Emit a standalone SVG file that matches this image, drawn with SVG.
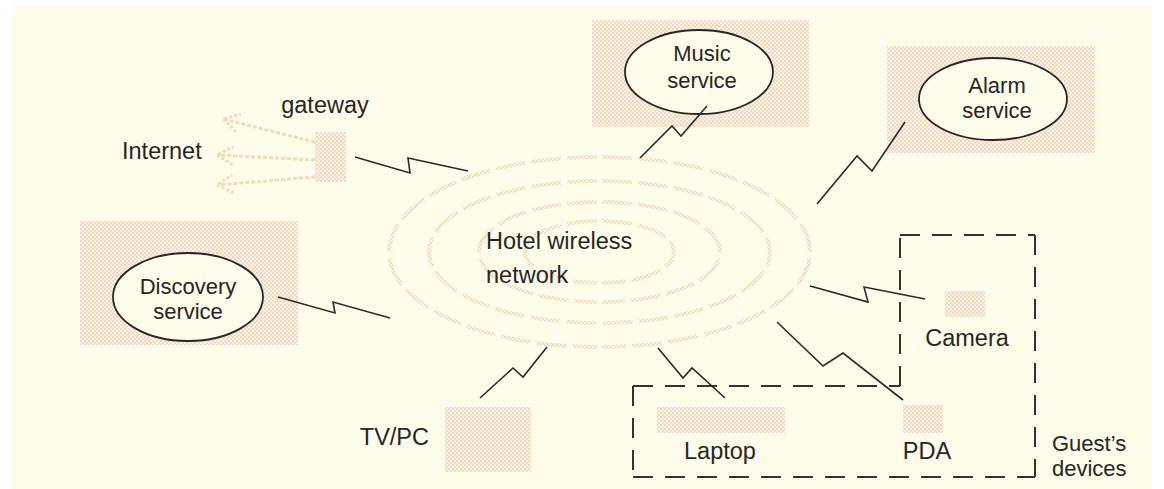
<svg xmlns="http://www.w3.org/2000/svg" width="1164" height="489" viewBox="0 0 1164 489">
  <style>
    .lbl { font-family: "Liberation Sans", Arial, sans-serif; font-size: 23.5px; fill: #262626; }
    .two { font-size: 22px; }
    .mid { text-anchor: middle; }
    .box { fill: url(#stipple); }
    .svc { fill: #FFFDE9; stroke: #262626; stroke-width: 1.8; }
    .link { fill: none; stroke: #2a2a2a; stroke-width: 1.6; stroke-linejoin: miter; }
    .ring { fill: none; stroke: url(#ringdots); stroke-width: 4; stroke-dasharray: 30 6; }
    .net { fill: none; stroke: #EFDDB8; stroke-width: 3; stroke-dasharray: 4 2; }
    .zone { fill: none; stroke: #333; stroke-width: 2; stroke-dasharray: 20 12; }
  </style>
  <defs>
    <pattern id="stipple" width="4" height="4" patternUnits="userSpaceOnUse">
      <rect width="4" height="4" fill="#FAF1E3"/>
      <rect x="0" y="0" width="2" height="2" fill="#EFD5DA"/>
      <rect x="2" y="2" width="2" height="2" fill="#F3E2AC"/>
    </pattern>
    <pattern id="ringdots" width="4" height="4" patternUnits="userSpaceOnUse">
      <rect width="4" height="4" fill="#FAF3E2"/>
      <rect x="0" y="0" width="2" height="2" fill="#EFD8DA"/>
      <rect x="2" y="2" width="2" height="2" fill="#F3E3AE"/>
    </pattern>
    <marker id="openhead" markerUnits="userSpaceOnUse" markerWidth="26" markerHeight="26" viewBox="-20 -13 26 26" refX="0" refY="0" orient="auto">
      <path d="M-16,-9 L0,0 L-16,9" fill="none" stroke="#EFDDB8" stroke-width="3" stroke-dasharray="3 2"/>
    </marker>
  </defs>

  <!-- paper -->
  <rect x="12" y="5" width="1140" height="484" fill="#FFFDE9"/>

  <!-- wireless network rings, split into left and right halves -->
  <g id="network">
    <path class="ring" d="M597 157 A208 95 0 0 0 597 347"/>
    <path class="ring" d="M602 157 A208 95 0 0 1 602 347"/>
    <path class="ring" d="M597 181 A168 71 0 0 0 597 323"/>
    <path class="ring" d="M602 181 A168 71 0 0 1 602 323"/>
    <path class="ring" d="M597 202 A118 50 0 0 0 597 302"/>
    <path class="ring" d="M602 202 A118 50 0 0 1 602 302"/>
    <path class="ring" d="M597 221 A72 31 0 0 0 597 283"/>
    <path class="ring" d="M602 221 A72 31 0 0 1 602 283"/>
    <text class="lbl" x="486" y="249">Hotel wireless</text>
    <text class="lbl" x="486" y="283">network</text>
  </g>

  <!-- internet uplinks -->
  <g id="internet">
    <line class="net" x1="315" y1="142" x2="223" y2="119" marker-end="url(#openhead)"/>
    <line class="net" x1="315" y1="160" x2="217" y2="155" marker-end="url(#openhead)"/>
    <line class="net" x1="315" y1="177" x2="217" y2="185" marker-end="url(#openhead)"/>
    <text class="lbl" x="122" y="159">Internet</text>
  </g>

  <g id="gateway">
    <rect class="box" x="315" y="132" width="31" height="50"/>
    <text class="lbl mid" x="325" y="113">gateway</text>
  </g>

  <g id="music">
    <rect class="box" x="592" y="20" width="217" height="107"/>
    <ellipse class="svc" cx="699" cy="72" rx="74" ry="42"/>
    <text class="lbl two mid" x="702" y="61">Music</text>
    <text class="lbl two mid" x="702" y="88">service</text>
  </g>

  <g id="alarm">
    <rect class="box" x="887" y="46" width="208" height="107"/>
    <ellipse class="svc" cx="993" cy="99" rx="74" ry="41"/>
    <text class="lbl two mid" x="997" y="93">Alarm</text>
    <text class="lbl two mid" x="997" y="118">service</text>
  </g>

  <g id="discovery">
    <rect class="box" x="80" y="221" width="218" height="124"/>
    <ellipse class="svc" cx="188" cy="297" rx="75" ry="44"/>
    <text class="lbl two mid" x="188" y="294">Discovery</text>
    <text class="lbl two mid" x="188" y="319">service</text>
  </g>

  <g id="tvpc">
    <rect class="box" x="445" y="407" width="86" height="65"/>
    <text class="lbl" x="429" y="445" text-anchor="end">TV/PC</text>
  </g>

  <g id="laptop">
    <rect class="box" x="657" y="407" width="128" height="26"/>
    <text class="lbl mid" x="720" y="459">Laptop</text>
  </g>

  <g id="pda">
    <rect class="box" x="903" y="405" width="40" height="28"/>
    <text class="lbl mid" x="927" y="459">PDA</text>
  </g>

  <g id="camera">
    <rect class="box" x="945" y="291" width="40" height="26"/>
    <text class="lbl mid" x="967" y="346">Camera</text>
  </g>

  <!-- guest device zone -->
  <g id="guest-zone">
    <line class="zone" x1="633" y1="386" x2="900" y2="386"/>
    <line class="zone" x1="900" y1="386" x2="900" y2="235"/>
    <line class="zone" x1="900" y1="235" x2="1035" y2="235"/>
    <line class="zone" x1="1035" y1="235" x2="1035" y2="477"/>
    <line class="zone" x1="633" y1="386" x2="633" y2="477"/>
    <line class="zone" x1="633" y1="477" x2="1035" y2="477"/>
    <text class="lbl two" x="1052" y="451">Guest’s</text>
    <text class="lbl two" x="1052" y="476">devices</text>
  </g>

  <!-- wireless links -->
  <g id="links">
    <polyline class="link" points="355,157 410,173 408,158 468,171"/>
    <polyline class="link" points="640,158 672,126 681,136 707,106"/>
    <polyline class="link" points="817,204 857,156 872,171 905,122"/>
    <polyline class="link" points="278,297 335,313 333,302 390,318"/>
    <polyline class="link" points="480,398 513,368 523,377 547,347"/>
    <polyline class="link" points="658,348 683,378 692,368 725,398"/>
    <polyline class="link" points="777,322 823,366 843,353 903,400"/>
    <polyline class="link" points="810,286 868,302 864,287 925,299"/>
  </g>
</svg>
